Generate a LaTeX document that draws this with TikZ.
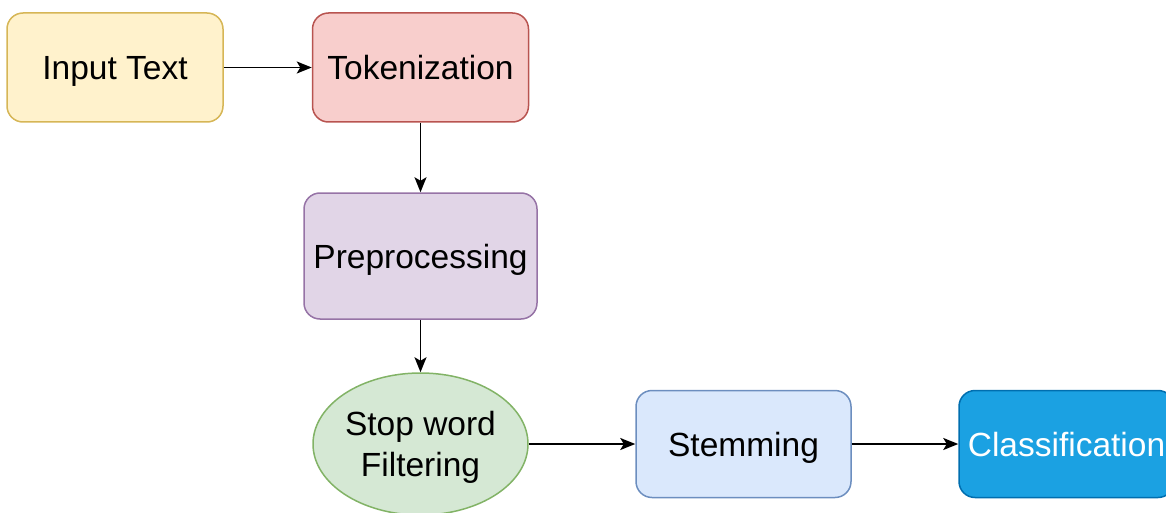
\documentclass[tikz,border=0pt]{standalone}
\usepackage{fontspec}
\setmainfont{Liberation Sans}
\usetikzlibrary{arrows.meta,shapes.geometric}
\definecolor{yfill}{HTML}{FFF2CC}\definecolor{ydraw}{HTML}{D6B656}
\definecolor{rfill}{HTML}{F8CECC}\definecolor{rdraw}{HTML}{B85450}
\definecolor{pfill}{HTML}{E1D5E7}\definecolor{pdraw}{HTML}{9673A6}
\definecolor{gfill}{HTML}{D5E8D4}\definecolor{gdraw}{HTML}{82B366}
\definecolor{bfill}{HTML}{DAE8FC}\definecolor{bdraw}{HTML}{6C8EBF}
\definecolor{cfill}{HTML}{1BA1E2}\definecolor{cdraw}{HTML}{006EAF}
\begin{document}
\begin{tikzpicture}[x=1pt,y=-1pt,
  every node/.style={font=\fontsize{33.5}{40}\selectfont, inner sep=0pt, align=center},
  box/.style={rectangle, rounded corners=16pt, line width=1.5pt,
    minimum width=216pt, minimum height=109pt, text height=28pt, text depth=4pt},
  flow/.style={line width=1.8pt, -{Stealth[length=15pt,width=12pt,inset=3.5pt]}}]
\useasboundingbox (0,0) rectangle (1166,513);
\node[box, fill=yfill, draw=ydraw] (input) at (115,67.5) {Input Text};
\node[box, fill=rfill, draw=rdraw] (token) at (420.5,67.5) {Tokenization};
\node[box, fill=pfill, draw=pdraw, minimum width=233pt, minimum height=126pt] (prep) at (420.5,256) {Preprocessing};
\node[ellipse, fill=gfill, draw=gdraw, line width=1.5pt, minimum width=215pt, minimum height=142pt] (stop) at (420.5,444) {};
\node[align=center] (stoptext) at (420.5,447) {Stop word\\[1pt]Filtering};
\node[box, fill=bfill, draw=bdraw, minimum width=215pt, minimum height=107pt] (stem) at (743.5,444) {Stemming};
\node[box, fill=cfill, draw=cdraw, minimum width=215pt, minimum height=107pt, text=white] (cls) at (1066.5,444) {Classification};
\draw[flow] (input) -- (token);
\draw[flow] (token) -- (prep);
\draw[flow] (prep) -- (stop);
\draw[flow] (stop.east) -- (stem);
\draw[flow] (stem) -- (cls);
\end{tikzpicture}
\end{document}
